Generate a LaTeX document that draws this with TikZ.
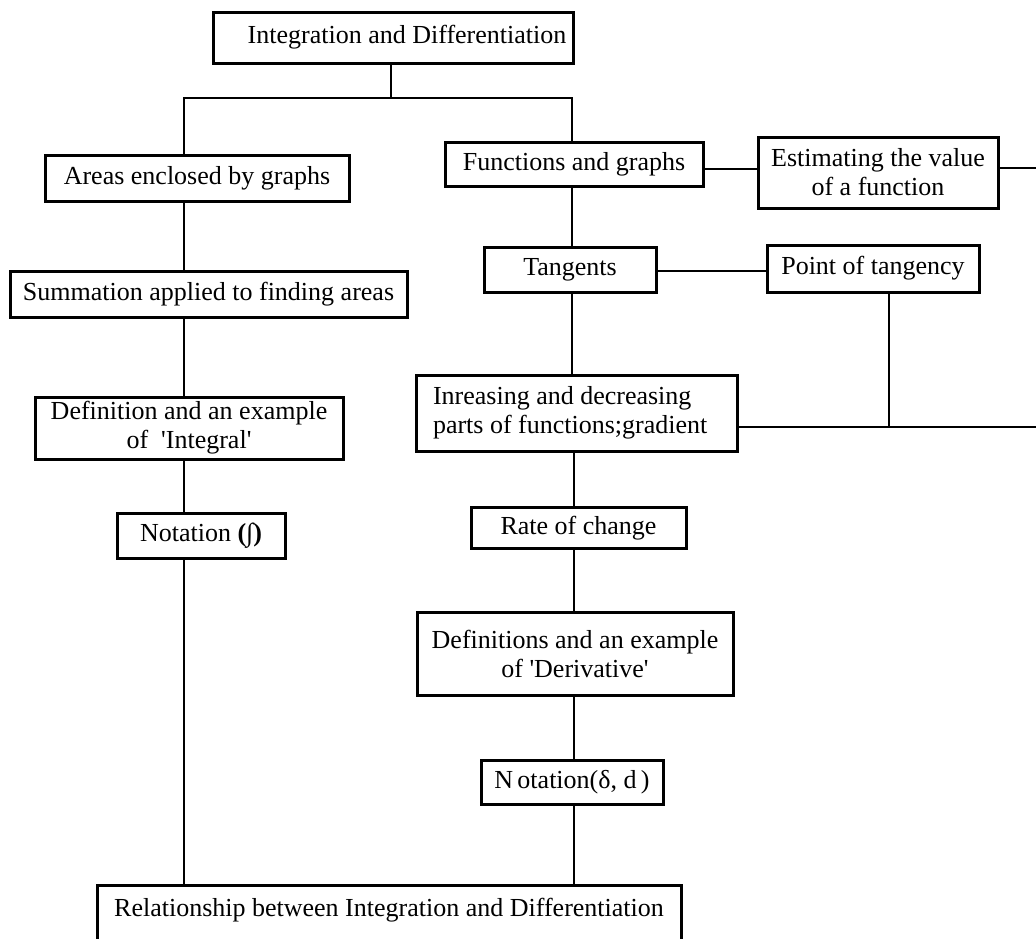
\documentclass[tikz,border=0pt]{standalone}
\usepackage{fontspec}
\setmainfont{Liberation Serif}
\newcommand{\fs}{\fontsize{26}{29}\selectfont}
\newcommand{\sq}{\textquotesingle}
\begin{document}
\begin{tikzpicture}[x=1pt,y=-1pt,
  box/.style={draw, line width=3pt, inner sep=0pt, align=center, font=\fs},
  conn/.style={line width=2.4pt}]
\useasboundingbox (0,0) rectangle (1036,938);
\clip (0,0) rectangle (1036,938);
% nodes
\node[box, minimum width=360pt, minimum height=51pt] (top) at (393,37.5) {\hspace*{28pt}Integration and Differentiation};
\node[box, minimum width=304pt, minimum height=46pt] (areas) at (197,178) {Areas enclosed by graphs};
\node[box, minimum width=397pt, minimum height=46pt] (summ) at (208.5,294) {Summation applied to finding areas};
\node[box, minimum width=308pt, minimum height=62pt] (defI) at (189,428) {Definition and an example\\of\ \ \sq Integral\sq};
\node[box, minimum width=168pt, minimum height=45pt] (notI) at (201,535.5) {Notation \textbf{(∫)}};
\node[box, minimum width=258pt, minimum height=44pt] (func) at (574,164) {Functions and graphs};
\node[box, minimum width=240pt, minimum height=71pt] (est) at (878,172.5) {Estimating the value\\of a function};
\node[box, minimum width=172pt, minimum height=45pt] (tan) at (570,269.5) {Tangents};
\node[box, minimum width=212pt, minimum height=47pt] (pt) at (873,268.5) {Point of tangency};
\node[box, minimum width=321pt, minimum height=76pt, align=flush left, text width=287pt, inner xsep=17pt] (inc) at (576.5,413) {Inreasing and decreasing\\parts of functions;gradient};
\node[box, minimum width=215pt, minimum height=41pt] (rate) at (578.5,528) {Rate of change};
\node[box, minimum width=316pt, minimum height=83pt] (defD) at (575,653.5) {Definitions and an example\\of \sq Derivative\sq};
\node[box, minimum width=182pt, minimum height=44pt] (notD) at (572,782) {N\,otation(δ, d\,)};
\node[box, minimum width=584pt, anchor=north, inner ysep=13pt, text height=18pt, text depth=60pt] (rel) at (389,884) {Relationship between Integration and Differentiation};
% junction coordinates
\coordinate (jl) at (184,98);
\coordinate (jr) at (572,98);
\coordinate (jt) at (391,98);
\coordinate (fe) at (703,169);
\coordinate (edge1) at (1040,168);
\coordinate (tl) at (0,271);
\coordinate (bl) at (0,427);
\coordinate (edge2) at (1040,427);
\coordinate (rc) at (574,0);
% connectors
\draw[conn] (top.south -| jt) -- (jt);
\draw[conn] (jl |- areas.north) |- (jr) -- (jr |- func.north);
\draw[conn] (jl |- areas.south) -- (jl |- summ.north);
\draw[conn] (jl |- summ.south) -- (jl |- defI.north);
\draw[conn] (jl |- defI.south) -- (jl |- notI.north);
\draw[conn] (jl |- notI.south) -- (jl |- rel.north);
\draw[conn] (func.east |- fe) -- (est.west |- fe);
\draw[conn] (est.east |- edge1) -- (edge1);
\draw[conn] (jr |- func.south) -- (jr |- tan.north);
\draw[conn] (tan.east |- tl) -- (pt.west |- tl);
\draw[conn] (jr |- tan.south) -- (jr |- inc.north);
\draw[conn] (pt.south -| 889,0) -- (889,427);
\draw[conn] (inc.east |- bl) -- (edge2);
\draw[conn] (rc |- inc.south) -- (rc |- rate.north);
\draw[conn] (rc |- rate.south) -- (rc |- defD.north);
\draw[conn] (rc |- defD.south) -- (rc |- notD.north);
\draw[conn] (rc |- notD.south) -- (rc |- rel.north);
\end{tikzpicture}
\end{document}
